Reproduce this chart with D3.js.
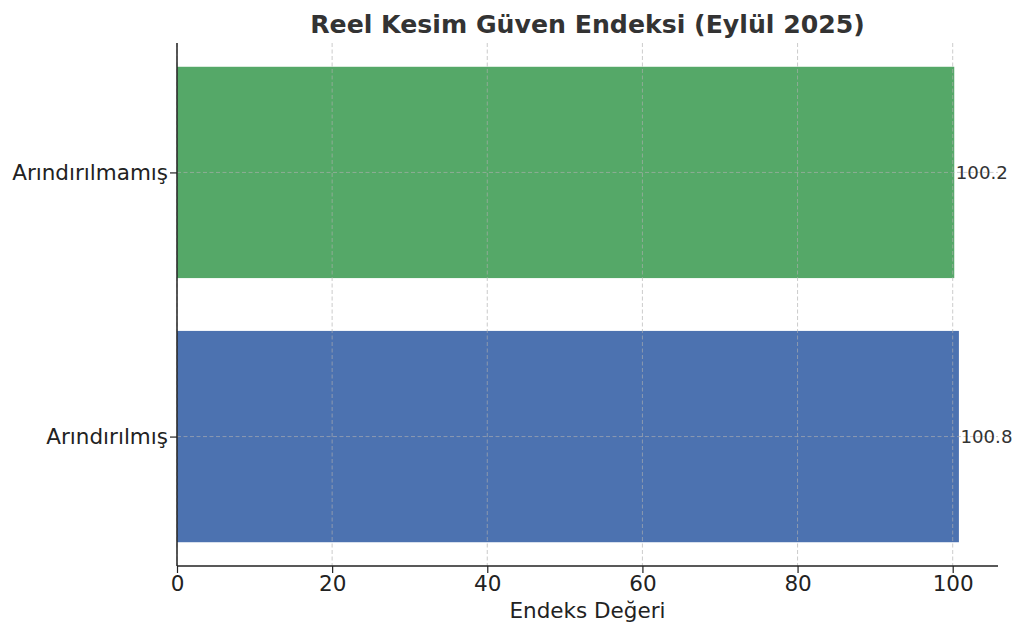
<!DOCTYPE html>
<html>
<head>
<meta charset="utf-8">
<script src="https://cdn.jsdelivr.net/npm/d3@7"></script>
<style>
  body { margin: 0; background: #fff; }
  text { font-family: "DejaVu Sans", sans-serif; }
</style>
</head>
<body>
<svg id="chart" width="1024" height="635"></svg>
<script>
// data
const categories = ["Arındırılmış", "Arındırılmamış"];
const values = [100.8, 100.2];
const barColors = ["#4c72b0", "#55a868"];
const xTicks = [0, 20, 40, 60, 80, 100];

const margin = {left: 177, right: 26, top: 43, bottom: 69};
const width = 1024, height = 635;

const svg = d3.select("#chart");

const x = d3.scaleLinear()
    .domain([0, d3.max(values) * 1.05])
    .range([margin.left, width - margin.right]);

// bar centres at 0,1 with height 0.8, matplotlib-ish margins
const y = d3.scaleLinear()
    .domain([-0.49, categories.length - 1 + 0.49])
    .range([height - margin.bottom, margin.top]);

const barH = y(0) - y(0.8);

// bars
svg.append("g").selectAll("rect")
  .data(values)
  .enter().append("rect")
    .attr("x", x(0))
    .attr("y", (d, i) => y(i + 0.4))
    .attr("width", d => x(d) - x(0))
    .attr("height", barH)
    .attr("fill", (d, i) => barColors[i]);

// grid (drawn above bars)
const grid = svg.append("g")
    .attr("stroke", "#b0b0b0")
    .attr("stroke-width", 0.8)
    .attr("stroke-dasharray", "4,2.5")
    .attr("opacity", 0.8);
grid.selectAll(".vg").data(xTicks).enter().append("line")
    .attr("x1", d => x(d)).attr("x2", d => x(d))
    .attr("y1", margin.top).attr("y2", height - margin.bottom);
grid.selectAll(".hg").data(categories).enter().append("line")
    .attr("x1", margin.left).attr("x2", width - margin.right)
    .attr("y1", (d, i) => y(i)).attr("y2", (d, i) => y(i));

// axes
const xAxis = d3.axisBottom(x).tickValues(xTicks).tickSize(7).tickPadding(3);
const gx = svg.append("g")
    .attr("transform", `translate(0,${height - margin.bottom})`)
    .call(xAxis);
gx.select(".domain").attr("stroke", "#222").attr("stroke-width", 1.5)
  .attr("d", `M${margin.left},0H${width - margin.right}`);
gx.selectAll(".tick line").attr("stroke", "#222").attr("stroke-width", 1.2);
gx.selectAll(".tick text").attr("fill", "#222")
  .style("font-size", "21.5px").attr("font-family", "DejaVu Sans");

const yAxis = d3.axisLeft(y).tickValues([0, 1])
    .tickFormat(i => categories[i]).tickSize(7).tickPadding(2);
const gy = svg.append("g")
    .attr("transform", `translate(${margin.left},0)`)
    .call(yAxis);
gy.select(".domain").attr("stroke", "#222").attr("stroke-width", 1.5)
  .attr("d", `M0,${margin.top}V${height - margin.bottom}`);
gy.selectAll(".tick line").attr("stroke", "#222").attr("stroke-width", 1.2);
gy.selectAll(".tick text").attr("fill", "#222")
  .style("font-size", "21.5px").attr("font-family", "DejaVu Sans");

// value labels
svg.append("g").selectAll("text")
  .data(values)
  .enter().append("text")
    .attr("x", d => x(d) + 1.5)
    .attr("y", (d, i) => y(i))
    .attr("dy", "0.35em")
    .attr("fill", "#333")
    .style("font-size", "18.2px")
    .text(d => d.toFixed(1));

// axis label
svg.append("text")
    .attr("x", (margin.left + width - margin.right) / 2)
    .attr("y", 618)
    .attr("text-anchor", "middle")
    .attr("fill", "#222")
    .style("font-size", "21.5px")
    .text("Endeks Değeri");

// title
svg.append("text")
    .attr("x", (margin.left + width - margin.right) / 2)
    .attr("y", 33)
    .attr("text-anchor", "middle")
    .attr("fill", "#333")
    .style("font-size", "25.2px")
    .style("font-weight", "bold")
    .text("Reel Kesim Güven Endeksi (Eylül 2025)");
</script>
</body>
</html>
